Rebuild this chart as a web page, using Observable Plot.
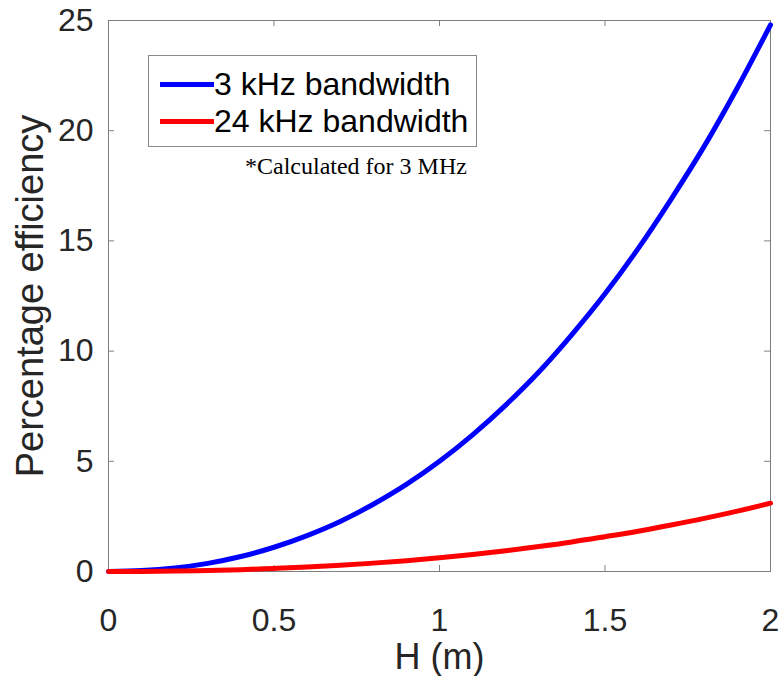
<!DOCTYPE html>
<html>
<head>
<meta charset="utf-8">
<script src="https://cdn.jsdelivr.net/npm/d3@7"></script>
<script src="https://cdn.jsdelivr.net/npm/@observablehq/plot@0.6"></script>
<style>
  html, body { margin: 0; padding: 0; background: #fff; }
  #chart { position: relative; width: 778px; height: 676px; }
  #legend {
    position: absolute; left: 148px; top: 55px; width: 329px; height: 92px;
    border: 1px solid #8a8a8a; background: #fff; box-sizing: border-box;
    font-family: "Liberation Sans", Arial, sans-serif; font-size: 32px; color: #000;
  }
  .row { position: absolute; left: 11px; height: 36px; display: flex; align-items: center; white-space: nowrap; }
  .swatch { width: 54px; height: 5px; }
  #note {
    position: absolute; left: 245px; top: 153px;
    font-family: "Liberation Serif", "Times New Roman", serif; font-size: 24px; color: #000; white-space: nowrap;
  }
</style>
</head>
<body>
<div id="chart"></div>
<script>
// Antenna height (m)
const heights = [0, 0.1, 0.2, 0.3, 0.4, 0.5, 0.6, 0.7, 0.8, 0.9, 1.0, 1.1, 1.2, 1.3, 1.4, 1.5, 1.6, 1.7, 1.8, 1.9, 2.0];
// Percentage efficiency, 3 kHz bandwidth
const eff3kHz = [0, 0.04, 0.16, 0.37, 0.68, 1.1, 1.63, 2.27, 3.05, 3.95, 5.0, 6.2, 7.55, 9.05, 10.75, 12.6, 14.65, 16.9, 19.3, 21.95, 24.8];
// Percentage efficiency, 24 kHz bandwidth
const eff24kHz = [0, 0.005, 0.02, 0.05, 0.085, 0.14, 0.2, 0.28, 0.38, 0.49, 0.62, 0.77, 0.94, 1.13, 1.34, 1.58, 1.83, 2.11, 2.41, 2.74, 3.1];

const seriesNames = ["3 kHz bandwidth", "24 kHz bandwidth"];
const seriesColors = ["#0000ff", "#ff0000"];
const xTicks = [0, 0.5, 1, 1.5, 2];
const yTicks = [0, 5, 10, 15, 20, 25];
const xLabel = "H (m)";
const yLabel = "Percentage efficiency";
const note = "*Calculated for 3 MHz";

const rows = heights.flatMap((h, i) => [
  {H: h, eff: eff3kHz[i], series: seriesNames[0]},
  {H: h, eff: eff24kHz[i], series: seriesNames[1]}
]);

const W = 778, Ht = 676;
const m = {left: 108, right: 8, top: 20, bottom: 105};
const innerW = W - m.left - m.right;
const innerH = Ht - m.top - m.bottom;
const axisGray = "#7f7f7f";
const tickLen = 6;

const chart = Plot.plot({
  width: W,
  height: Ht,
  marginLeft: m.left,
  marginRight: m.right,
  marginTop: m.top,
  marginBottom: m.bottom,
  style: {fontFamily: "'Liberation Sans', Arial, sans-serif", color: "#262626", background: "#fff", overflow: "visible"},
  x: {domain: [0, 2]},
  y: {domain: [0, 25]},
  color: {domain: seriesNames, range: seriesColors},
  marks: [
    Plot.frame({stroke: axisGray}),
    // inward ticks on all four sides
    Plot.tickX(xTicks, {x: d => d, stroke: axisGray, insetTop: innerH - tickLen}),
    Plot.tickX(xTicks, {x: d => d, stroke: axisGray, insetBottom: innerH - tickLen}),
    Plot.tickY(yTicks, {y: d => d, stroke: axisGray, insetRight: innerW - tickLen}),
    Plot.tickY(yTicks, {y: d => d, stroke: axisGray, insetLeft: innerW - tickLen}),
    Plot.lineY(rows, {x: "H", y: "eff", z: "series", stroke: "series", strokeWidth: 5, curve: "monotone-x"}),
    Plot.axisX({ticks: xTicks, tickSize: 0, tickPadding: 37, fontSize: 32, label: null, tickFormat: d => String(d)}),
    Plot.axisY({ticks: yTicks, tickSize: 0, tickPadding: 15, fontSize: 32, label: null, tickFormat: d => String(d)}),
    Plot.text([xLabel], {frameAnchor: "bottom", textAnchor: "middle", lineAnchor: "middle", dy: 86, fontSize: 36, fill: "#262626"}),
    Plot.text([yLabel], {frameAnchor: "left", textAnchor: "middle", lineAnchor: "middle", rotate: -90, dx: -78, fontSize: 38, fill: "#262626"})
  ]
});

const host = document.getElementById("chart");
host.appendChild(chart);

// legend box inside the plot area
const legend = document.createElement("div");
legend.id = "legend";
seriesNames.forEach((name, i) => {
  const row = document.createElement("div");
  row.className = "row";
  row.style.top = (i === 0 ? 10 : 47) + "px";
  const sw = document.createElement("div");
  sw.className = "swatch";
  sw.style.background = seriesColors[i];
  const label = document.createElement("span");
  label.textContent = name;
  row.appendChild(sw);
  row.appendChild(label);
  legend.appendChild(row);
});
host.appendChild(legend);

const noteEl = document.createElement("div");
noteEl.id = "note";
noteEl.textContent = note;
host.appendChild(noteEl);
</script>
</body>
</html>
